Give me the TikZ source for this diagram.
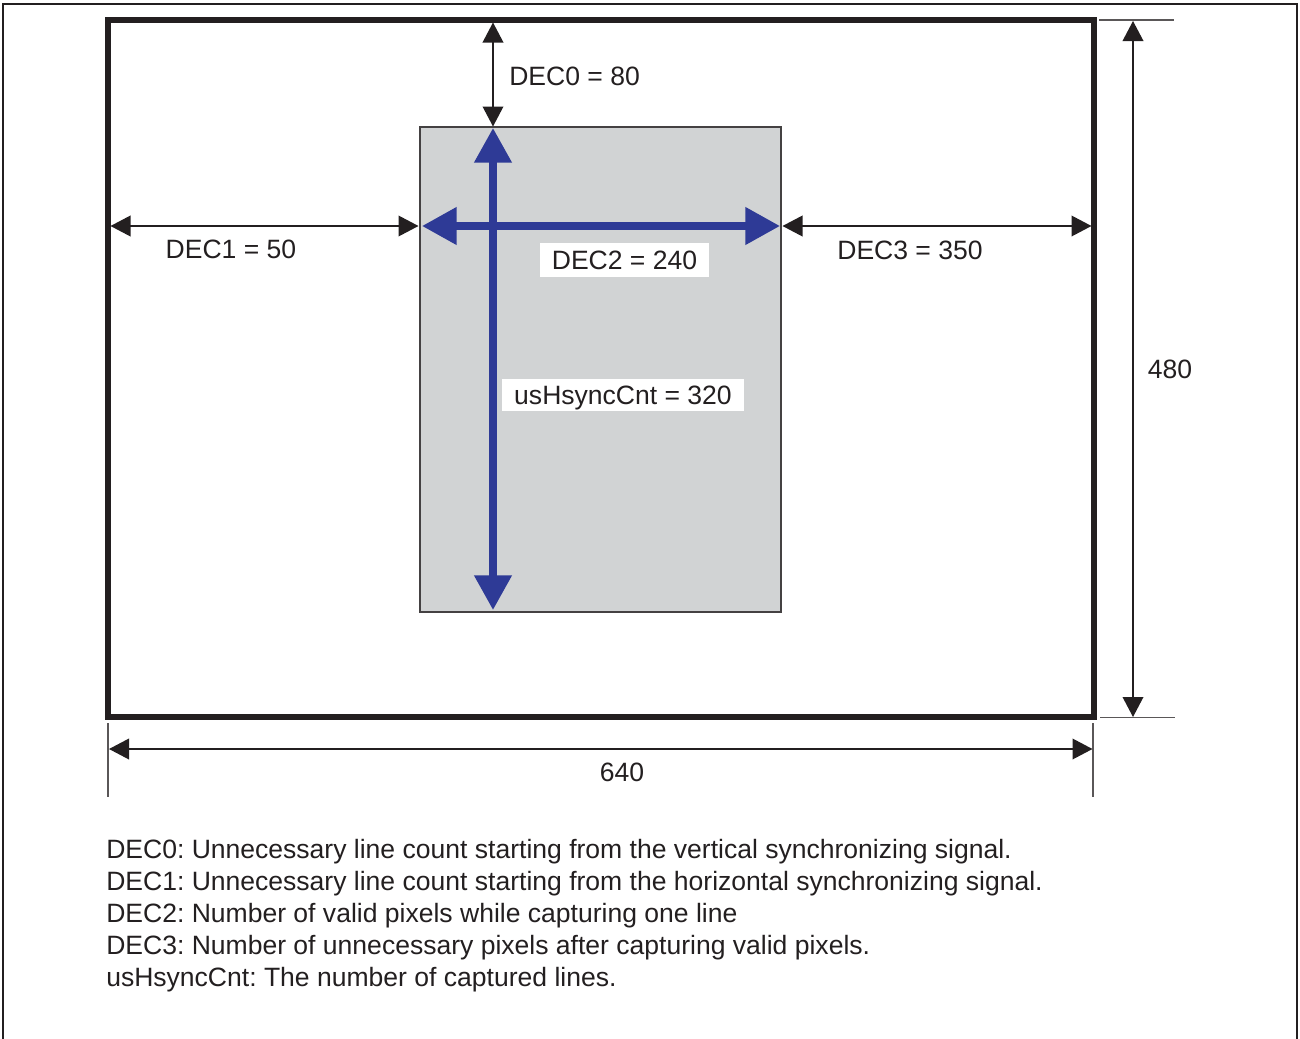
\documentclass[tikz,border=0pt]{standalone}
\usepackage{fontspec}
\setmainfont{Liberation Sans}
\usetikzlibrary{arrows.meta}
\definecolor{ink}{RGB}{35,31,32}
\definecolor{bluearrow}{RGB}{46,58,150}
\definecolor{panelgray}{RGB}{209,211,212}
\begin{document}
\frenchspacing
\begin{tikzpicture}[x=0.75pt,y=-0.75pt,
  lbl/.style={font=\fontsize{19.9}{24}\selectfont, text=ink, inner sep=0pt},
  dimarrow/.style={draw=ink, line width=1.1pt, {Triangle[length=15pt,width=15.5pt]}-{Triangle[length=15pt,width=15.5pt]}},
  bigarrow/.style={draw=bluearrow, line width=5.6pt, {Triangle[length=26pt,width=27pt]}-{Triangle[length=26pt,width=27pt]}},
  extline/.style={draw=ink!75, line width=0.9pt},
  whitebox/.style={lbl, fill=white, text depth=0pt, minimum height=25pt}]
\useasboundingbox (0,0) rectangle (1300,1039);
% outer frame (open at the bottom)
\coordinate (oBL) at (3,1040);
\coordinate (oTL) at (3,4);
\coordinate (oTR) at (1297,4);
\coordinate (oBR) at (1297,1040);
\draw[ink, line width=1.6pt] (oBL) -- (oTL) -- (oTR) -- (oBR);
% main frame
\coordinate (fTL) at (108,20);
\coordinate (fBR) at (1094,717);
\draw[ink, line width=3.8pt] (fTL) rectangle (fBR);
% gray panel
\coordinate (pTL) at (420,127);
\coordinate (pBR) at (781,612);
\draw[ink!85, line width=1.1pt, fill=panelgray] (pTL) rectangle (pBR);
% DEC0
\coordinate (d0a) at (493,22.5);
\coordinate (d0b) at (493,126.5);
\draw[dimarrow] (d0a) -- (d0b);
\node[lbl, anchor=base west] (l0) at (509,85) {DEC0 = 80};
% DEC1
\coordinate (d1a) at (110.5,226);
\coordinate (d1b) at (418.5,226);
\draw[dimarrow] (d1a) -- (d1b);
\node[lbl, anchor=base] (l1) at (231,258) {DEC1 = 50};
% DEC3
\coordinate (d3a) at (782.5,226);
\coordinate (d3b) at (1091.5,226);
\draw[dimarrow] (d3a) -- (d3b);
\node[lbl, anchor=base] (l3) at (910,259) {DEC3 = 350};
% blue arrows
\coordinate (bha) at (422,226);
\coordinate (bhb) at (780,226);
\coordinate (bva) at (493,128);
\coordinate (bvb) at (493,610);
\draw[bigarrow] (bva) -- (bvb);
\draw[bigarrow] (bha) -- (bhb);
\node[whitebox, minimum width=126.75pt] (l2) at (624.5,260) {DEC2 = 240};
\node[whitebox, minimum width=181.5pt, minimum height=24pt] (lh) at (623,395) {usHsyncCnt = 320};
% 480
\coordinate (e1a) at (1099,20);
\coordinate (e1b) at (1174,20);
\coordinate (e2a) at (1100,717.5);
\coordinate (e2b) at (1175,717.5);
\draw[extline] (e1a) -- (e1b);
\draw[extline] (e2a) -- (e2b);
\coordinate (v1) at (1133,21);
\coordinate (v2) at (1133,717);
\draw[dimarrow] (v1) -- (v2);
\node[lbl, anchor=base] (l480) at (1170,378) {480};
% 640
\coordinate (e3a) at (108,723);
\coordinate (e3b) at (108,797);
\coordinate (e4a) at (1093,723);
\coordinate (e4b) at (1093,797);
\draw[extline] (e3a) -- (e3b);
\draw[extline] (e4a) -- (e4b);
\coordinate (h1) at (109,749);
\coordinate (h2) at (1092.5,749);
\draw[dimarrow] (h1) -- (h2);
\node[lbl, anchor=base] (l640) at (622,781) {640};
% legend
\node[lbl, anchor=base west] (t1) at (106,858) {DEC0: Unnecessary line count starting from the vertical synchronizing signal.};
\node[lbl, anchor=base west] (t2) at (106,890) {DEC1: Unnecessary line count starting from the horizontal synchronizing signal.};
\node[lbl, anchor=base west] (t3) at (106,922) {DEC2: Number of valid pixels while capturing one line};
\node[lbl, anchor=base west] (t4) at (106,954) {DEC3: Number of unnecessary pixels after capturing valid pixels.};
\node[lbl, anchor=base west] (t5) at (106,986) {usHsyncCnt: The number of captured lines.};
\end{tikzpicture}
\end{document}
